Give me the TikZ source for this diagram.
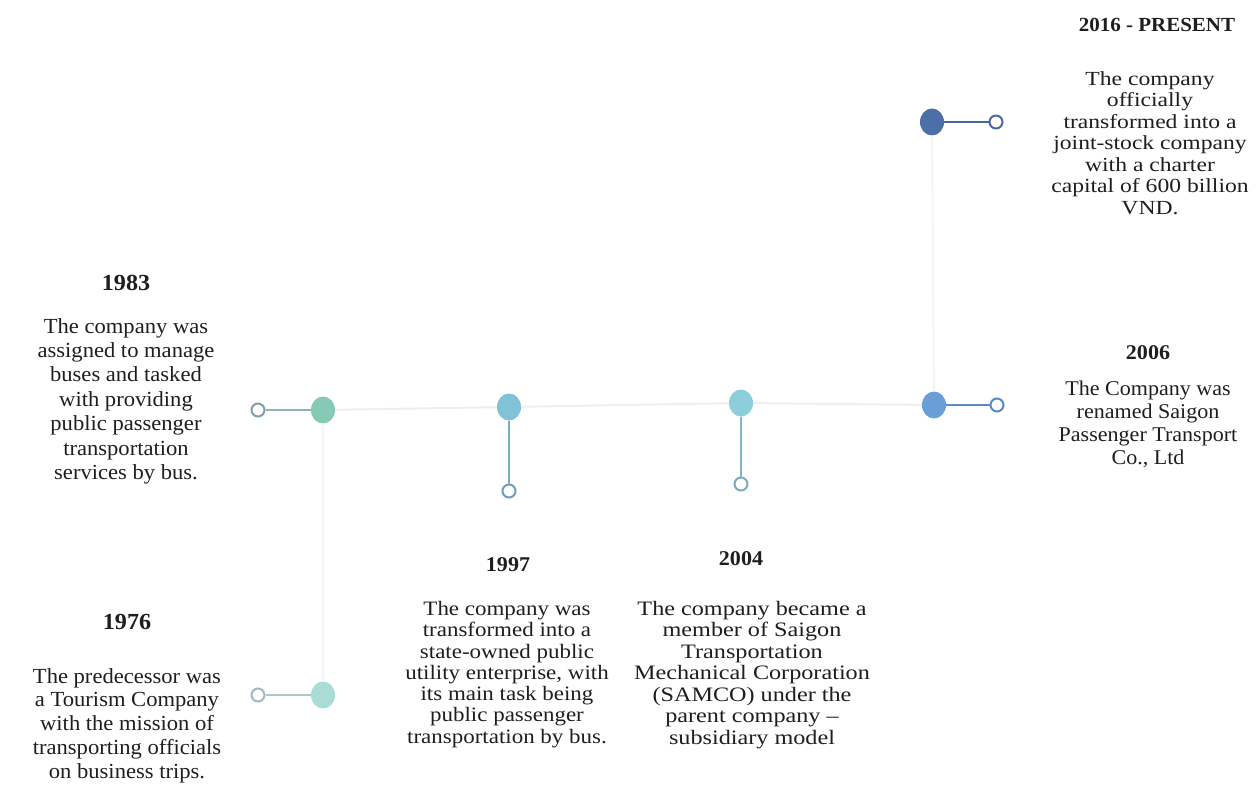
\documentclass[tikz,border=0pt]{standalone}
\usepackage{fontspec}
\usetikzlibrary{shapes.geometric}
\setmainfont{Liberation Serif}
\newfontfamily\fsA[FakeStretch=1.05]{Liberation Serif}
\newfontfamily\fsB[FakeStretch=1.12]{Liberation Serif}
\newfontfamily\fsD[FakeStretch=1.18]{Liberation Serif}
\newfontfamily\fsC[FakeStretch=1.18]{Liberation Serif}
\definecolor{txt}{HTML}{1E1E1E}
\definecolor{faintc}{HTML}{EEEEEE}
\definecolor{fainterc}{HTML}{F5F5F5}
\definecolor{c83}{HTML}{86C9B4}\definecolor{l83}{HTML}{8FB5B3}\definecolor{r83}{HTML}{7F9FAC}
\definecolor{c76}{HTML}{A9DCD6}\definecolor{l76}{HTML}{A7C9C9}\definecolor{r76}{HTML}{A0B8C0}
\definecolor{c97}{HTML}{80C3D6}\definecolor{l97}{HTML}{77AFC4}\definecolor{r97}{HTML}{6F9FB3}
\definecolor{c04}{HTML}{8CCFDB}\definecolor{l04}{HTML}{7FB8C8}\definecolor{r04}{HTML}{7AAABB}
\definecolor{c06}{HTML}{6A9ED8}\definecolor{l06}{HTML}{5C8CC4}\definecolor{r06}{HTML}{5A88C0}
\definecolor{c16}{HTML}{4D6FA8}\definecolor{l16}{HTML}{4A66A0}\definecolor{r16}{HTML}{4A68A4}
\begin{document}
\begin{tikzpicture}[x=1pt,y=-1pt,
  body/.style={anchor=north, inner sep=0pt, align=center, text=txt},
  ttl/.style={anchor=north, inner sep=0pt, text=txt},
  dot/.style={ellipse, inner sep=0pt, minimum width=24pt, minimum height=27pt},
  ring/.style={circle, draw, line width=2pt, fill=white, inner sep=0pt, minimum size=13pt},
  link/.style={line width=2.5pt},
  faint/.style={line width=2pt, draw=faintc},
  fainter/.style={line width=2pt, draw=fainterc}]
\useasboundingbox (0,0) rectangle (1256,802);
% dots
\node[dot, fill=c83] (f83) at (323,410) {};
\node[ring, draw=r83] (o83) at (258,410) {};
\node[dot, fill=c76] (f76) at (323,695) {};
\node[ring, draw=r76] (o76) at (258,695) {};
\node[dot, fill=c97] (f97) at (509,407) {};
\node[ring, draw=r97] (o97) at (509,491) {};
\node[dot, fill=c04] (f04) at (741,403) {};
\node[ring, draw=r04] (o04) at (741,484) {};
\node[dot, fill=c06] (f06) at (934,405) {};
\node[ring, draw=r06] (o06) at (997,405) {};
\node[dot, fill=c16] (f16) at (932,122) {};
\node[ring, draw=r16] (o16) at (996,122) {};
% faint backbone
\draw[faint] (f83) -- (f97) (f97) -- (f04) (f04) -- (f06);
\draw[fainter] (f83) -- (f76);
\draw[fainter] (f16) -- (f06);
% links
\draw[link, draw=l83] (o83) -- (f83);
\draw[link, draw=l76] (o76) -- (f76);
\draw[link, draw=l97] (f97) -- (o97);
\draw[link, draw=l04] (f04) -- (o04);
\draw[link, draw=l06] (f06) -- (o06);
\draw[link, draw=l16] (f16) -- (o16);
% titles
\node[ttl, font=\fsA\bfseries\fontsize{23}{26}\selectfont] (t83) at (126,275) {1983};
\node[ttl, font=\fsA\bfseries\fontsize{23}{26}\selectfont] (t76) at (127,614) {1976};
\node[ttl, font=\fsA\bfseries\fontsize{21}{24}\selectfont] (t97) at (508,557) {1997};
\node[ttl, font=\fsA\bfseries\fontsize{21}{24}\selectfont] (t04) at (741,551) {2004};
\node[ttl, font=\fsA\bfseries\fontsize{20}{24}\selectfont] (t16) at (1157,18) {2016 - PRESENT};
\node[ttl, font=\fsA\bfseries\fontsize{21}{24}\selectfont] (t06) at (1148,345) {2006};
% bodies
\node[body, font=\fsA\fontsize{21.5}{24.4}\selectfont] (b83) at (126,318)
  {The company was\\assigned to manage\\buses and tasked\\with providing\\public passenger\\transportation\\services by bus.};
\node[body, font=\fsA\fontsize{21.5}{23.8}\selectfont] (b76) at (127,668)
  {The predecessor was\\a Tourism Company\\with the mission of\\transporting officials\\on business trips.};
\node[body, font=\fsB\fontsize{20.5}{21.3}\selectfont] (b97) at (507,601)
  {The company was\\transformed into a\\state-owned public\\utility enterprise, with\\its main task being\\public passenger\\transportation by bus.};
\node[body, font=\fsD\fontsize{20.5}{21.5}\selectfont] (b04) at (752,601)
  {The company became a\\member of Saigon\\Transportation\\Mechanical Corporation\\(SAMCO) under the\\parent company –\\subsidiary model};
\node[body, font=\fsC\fontsize{20}{21.5}\selectfont] (b16) at (1150,71)
  {The company\\officially\\transformed into a\\joint-stock company\\with a charter\\capital of 600 billion\\VND.};
\node[body, font=\fsA\fontsize{21}{23}\selectfont] (b06) at (1148,381)
  {The Company was\\renamed Saigon\\Passenger Transport\\Co., Ltd};
\end{tikzpicture}
\end{document}
